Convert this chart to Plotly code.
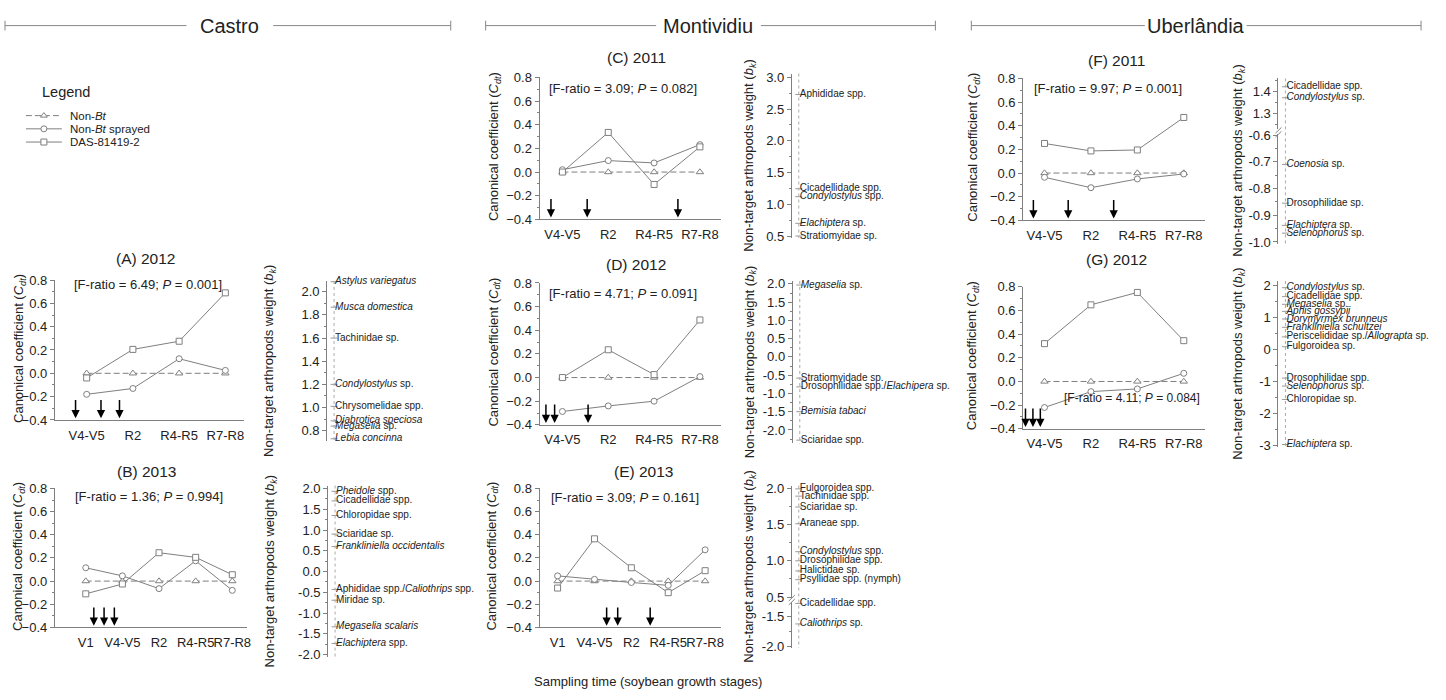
import plotly.graph_objects as go

W, H = 1446, 700
FONT = "Liberation Sans, Arial, sans-serif"
GRAY = "#7f7f7f"
TXT = "#222222"

# ------------------------------------------------------------------ data
stages4 = ["V4-V5", "R2", "R4-R5", "R7-R8"]
stages5 = ["V1", "V4-V5", "R2", "R4-R5", "R7-R8"]
series_names = ["Non-<i>Bt</i>", "Non-<i>Bt</i> sprayed", "DAS-81419-2"]

# Castro (A) 2012
a_nonbt = [0.0, 0.0, 0.0, 0.0]
a_sprayed = [-0.18, -0.13, 0.125, 0.025]
a_das = [-0.04, 0.205, 0.275, 0.69]
a_arrows = [0.76, 1.31, 1.71]
# Castro (B) 2013
b_nonbt = [0.0, 0.0, 0.0, 0.0, 0.0]
b_sprayed = [0.115, 0.045, -0.065, 0.175, -0.08]
b_das = [-0.11, -0.025, 0.245, 0.205, 0.055]
b_arrows = [1.22, 1.50, 1.78]
# Montividiu (C) 2011
c_nonbt = [0.0, 0.0, 0.0, 0.0]
c_sprayed = [0.02, 0.097, 0.077, 0.232]
c_das = [0.0, 0.335, -0.105, 0.213]
c_arrows = [0.75, 1.54, 3.52]
# Montividiu (D) 2012
d_nonbt = [0.0, 0.0, 0.0, 0.0]
d_sprayed = [-0.287, -0.24, -0.20, 0.008]
d_das = [0.0, 0.235, 0.025, 0.487]
d_arrows = [0.64, 0.83, 1.56]
# Montividiu (E) 2013
e_nonbt = [0.0, 0.0, 0.0, 0.0, 0.0]
e_sprayed = [0.045, 0.015, -0.012, -0.037, 0.27]
e_das = [-0.06, 0.365, 0.115, -0.10, 0.09]
e_arrows = [2.33, 2.63, 3.51]
# Uberlandia (F) 2011
f_nonbt = [0.0, 0.0, 0.0, 0.0]
f_sprayed = [-0.036, -0.124, -0.05, -0.008]
f_das = [0.25, 0.187, 0.195, 0.47]
f_arrows = [0.76, 1.51, 2.49]
# Uberlandia (G) 2012
g_nonbt = [0.0, 0.0, 0.0, 0.0]
g_sprayed = [-0.22, -0.086, -0.063, 0.069]
g_das = [0.32, 0.648, 0.753, 0.345]
g_arrows = [0.59, 0.75, 0.91]

f_ratios = {
    "A": "[F-ratio = 6.49; <i>P</i> = 0.001]",
    "B": "[F-ratio = 1.36; <i>P</i> = 0.994]",
    "C": "[F-ratio = 3.09; <i>P</i> = 0.082]",
    "D": "[F-ratio = 4.71; <i>P</i> = 0.091]",
    "E": "[F-ratio = 3.09; <i>P</i> = 0.161]",
    "F": "[F-ratio = 9.97; <i>P</i> = 0.001]",
    "G": "[F-ratio = 4.11; <i>P</i> = 0.084]",
}

# non-target arthropod weights (b_k)
aw_names = ["<i>Astylus variegatus</i>", "<i>Musca domestica</i>", "Tachinidae sp.",
            "<i>Condylostylus</i> sp.", "Chrysomelidae spp.", "<i>Diabrotica speciosa</i>",
            "<i>Megaselia</i> sp.", "<i>Lebia concinna</i>"]
aw_vals = [2.087, 1.867, 1.60, 1.20, 1.01, 0.885, 0.84, 0.73]

bw_names = ["<i>Pheidole</i> spp.", "Cicadellidae spp.", "Chloropidae spp.", "Sciaridae sp.",
            "<i>Frankliniella occidentalis</i>", "Aphididae spp./<i>Caliothrips</i> spp.",
            "Miridae sp.", "<i>Megaselia scalaris</i>", "<i>Elachiptera</i> spp."]
bw_vals = [1.93, 1.70, 1.35, 0.90, 0.60, -0.43, -0.69, -1.33, -1.73]

cw_names = ["Aphididae spp.", "Cicadellidade spp.", "<i>Condylostylus</i> spp.",
            "<i>Elachiptera</i> sp.", "Stratiomyidae sp."]
cw_vals = [2.73, 1.245, 1.12, 0.70, 0.50]

dw_names = ["<i>Megaselia</i> sp.", "Stratiomyidade sp.",
            "Drosophilidae spp./<i>Elachipera</i> sp.", "<i>Bemisia tabaci</i>", "Sciaridae spp."]
dw_vals = [1.97, -0.58, -0.82, -1.50, -2.28]

ew_up_names = ["Fulgoroidea spp.", "Tachinidae spp.", "Sciaridae sp.", "Araneae spp.",
               "<i>Condylostylus</i> spp.", "Drosophilidae spp.", "Halictidae sp.",
               "Psyllidae spp. (nymph)"]
ew_up_vals = [1.99, 1.89, 1.74, 1.51, 1.125, 1.00, 0.86, 0.74]
ew_lo_names = ["Cicadellidae spp.", "<i>Caliothrips</i> sp."]
ew_lo_vals = [-1.27, -1.62]

fw_up_names = ["Cicadellidae spp.", "<i>Condylostylus</i> sp."]
fw_up_vals = [1.42, 1.37]
fw_lo_names = ["<i>Coenosia</i> sp.", "Drosophilidae sp.", "<i>Elachiptera</i> sp.",
               "<i>Selenophorus</i> sp."]
fw_lo_vals = [-0.71, -0.855, -0.938, -0.967]

gw_names = ["<i>Condylostylus</i> sp.", "Cicadellidae spp.", "<i>Megaselia</i> sp.",
            "<i>Aphis gossypii</i>", "<i>Dorymyrmex brunneus</i>", "<i>Frankliniella schultzei</i>",
            "Periscelididae sp./<i>Allograpta</i> sp.", "Fulgoroidea sp.", "Drosophilidae spp.",
            "<i>Selenophorus</i> sp.", "Chloropidae sp.", "<i>Elachiptera</i> sp."]
gw_vals = [1.94, 1.66, 1.42, 1.20, 0.96, 0.70, 0.40, 0.09, -0.89, -1.14, -1.56, -2.97]

# ------------------------------------------------------------------ helpers
def fx(p):
    return p / W


def fy(p):
    return 1 - p / H


fig = go.Figure()
layout = dict(
    width=W, height=H, margin=dict(l=0, r=0, t=0, b=0),
    paper_bgcolor="white", plot_bgcolor="rgba(0,0,0,0)",
    showlegend=False, font=dict(family=FONT, color=TXT, size=13),
)
annotations = []
shapes = []

def ann(x, y, text, size=13, xanchor="center", yanchor="middle", angle=0, **kw):
    annotations.append(dict(x=fx(x), y=fy(y), xref="paper", yref="paper", text=text,
                            showarrow=False, xanchor=xanchor, yanchor=yanchor,
                            textangle=angle, font=dict(size=size, family=FONT, color=TXT), **kw))

def pline(x0, y0, x1, y1, color="#666", width=1, dash=None):
    shapes.append(dict(type="line", xref="paper", yref="paper", x0=fx(x0), y0=fy(y0),
                       x1=fx(x1), y1=fy(y1), line=dict(color=color, width=width, dash=dash)))

CDT_TITLE = "Canonical coefficient (<i>C</i><sub><i>dt</i></sub>)"
BK_TITLE = "Non-target arthropods weight (<i>b</i><sub><i>k</i></sub>)"

axis_id = [0]

def new_axes():
    axis_id[0] += 1
    return axis_id[0]

def cdt_panel(stages, nonbt, sprayed, das, arrows, title, ftxt,
              xdom, ydom, xr, title_xy, ftxt_xy, ftxt_anchor, ytitle_x, fsize=13):
    k = new_axes()
    xs = list(range(1, len(stages) + 1))
    layout[f"xaxis{k}"] = dict(
        domain=[fx(xdom[0]), fx(xdom[1])], range=xr, anchor=f"y{k}",
        tickvals=xs, ticktext=stages, showline=True, linecolor=GRAY, linewidth=1,
        ticks="", showgrid=False, zeroline=False, tickfont=dict(size=13, color=TXT),
        tickangle=0, ticklabelstandoff=3, fixedrange=True)
    layout[f"yaxis{k}"] = dict(
        domain=[fy(ydom[1]), fy(ydom[0])], range=[-0.4, 0.8], anchor=f"x{k}",
        tickvals=[-0.4, -0.2, 0.0, 0.2, 0.4, 0.6, 0.8], tickformat=".1f",
        showline=True, linecolor=GRAY, linewidth=1, ticks="outside", ticklen=4,
        tickcolor=GRAY, showgrid=False, zeroline=False, tickfont=dict(size=13, color=TXT),
        minor=dict(tickvals=[-0.3, -0.1, 0.1, 0.3, 0.5, 0.7], ticks="outside", ticklen=2,
                   tickcolor=GRAY, showgrid=False), fixedrange=True)
    xa, ya = f"x{k}", f"y{k}"
    for vals, sym, dash in ((nonbt, "triangle-up", "6px,3px"),
                            (sprayed, "circle", None),
                            (das, "square", None)):
        fig.add_trace(go.Scatter(
            x=xs, y=vals, xaxis=xa, yaxis=ya, mode="lines+markers",
            line=dict(color=GRAY, width=1, dash=dash),
            marker=dict(symbol=sym, size=6 if sym != "triangle-up" else 6.5,
                        color="white", line=dict(color=GRAY, width=1)),
            cliponaxis=False, hoverinfo="skip"))
    for a in arrows:
        annotations.append(dict(x=a, y=-0.385, ax=a, ay=-0.215, xref=xa, yref=ya,
                                axref=xa, ayref=ya, text="", showarrow=True,
                                arrowhead=2, arrowsize=1.1, arrowwidth=1.5,
                                arrowcolor="black"))
    ann(title_xy[0], title_xy[1], title, size=15.5)
    ann(ftxt_xy[0], ftxt_xy[1], ftxt, size=fsize, xanchor=ftxt_anchor)
    ann(ytitle_x, (ydom[0] + ydom[1]) / 2 - 2, CDT_TITLE, size=13, angle=-90)


def weight_axis(k, axpx, ydom, yr, tickvals, ticktext, minorvals, xk):
    layout[f"yaxis{k}"] = dict(
        domain=[fy(ydom[1]), fy(ydom[0])], range=yr, anchor=f"x{xk}",
        tickvals=tickvals, ticktext=ticktext, showline=True, linecolor=GRAY, linewidth=1,
        ticks="outside", ticklen=4, tickcolor=GRAY, showgrid=False, zeroline=False,
        tickfont=dict(size=13, color=TXT),
        minor=dict(tickvals=minorvals, ticks="outside", ticklen=2, tickcolor=GRAY,
                   showgrid=False), fixedrange=True)


def species(xk, yk, names, vals):
    fig.add_trace(go.Scatter(
        x=[7] * len(vals), y=vals, xaxis=f"x{xk}", yaxis=f"y{yk}", mode="markers",
        marker=dict(symbol="line-ew", size=5, line=dict(color="#999", width=1)),
        cliponaxis=False, hoverinfo="skip"))
    fig.add_trace(go.Scatter(
        x=[8] * len(vals), y=vals, xaxis=f"x{xk}", yaxis=f"y{yk}", mode="text",
        text=names, textposition="middle right",
        textfont=dict(size=10, color=TXT, family=FONT),
        cliponaxis=False, hoverinfo="skip"))


def frange(a, b, step):
    out = []
    v = a
    while v <= b + 1e-9:
        out.append(round(v, 4))
        v += step
    return out


def weight_panel(axpx, segments, title_x):
    """segments: list of (ydom, yr, tickvals, fmt, minorvals, names, vals)"""
    xk = new_axes()
    right = min(axpx + 175, W)
    layout[f"xaxis{xk}"] = dict(domain=[fx(axpx), fx(right)], range=[0, right - axpx],
                                visible=False, fixedrange=True, anchor=f"y{xk}")
    first = True
    top = min(s[0][0] for s in segments)
    bot = max(s[0][1] for s in segments)
    for ydom, yr, tv, fmt, mv, names, vals in segments:
        yk = xk if first else new_axes()
        if not first:
            layout[f"xaxis{yk}"] = dict(domain=[0, 0.001], visible=False, anchor=f"y{yk}")
        weight_axis(yk, axpx, ydom, yr, tv, [fmt.format(v) for v in tv], mv, xk)
        species(xk, yk, names, vals)
        first = False
    # dotted guide line
    shapes.append(dict(type="line", xref="paper", yref="paper",
                       x0=fx(axpx + 7), x1=fx(axpx + 7), y0=fy(top), y1=fy(bot),
                       line=dict(color="#aaa", width=1, dash="dot")))
    ann(title_x, (top + bot) / 2, BK_TITLE, size=13, angle=-90)


def break_mark(x, y):
    for dy in (-2, 2):
        pline(x - 3, y + dy + 3, x + 3, y + dy - 3, color=GRAY, width=1)


# ------------------------------------------------------------------ Castro
cdt_panel(stages4, a_nonbt, a_sprayed, a_das, a_arrows, "(A) 2012", f_ratios["A"],
          (55, 245), (279, 422), [0.312, 4.41], (146, 257), (72, 284), "left", 19)
weight_panel(328, [((280, 443), [0.715, 2.093], frange(0.8, 2.0, 0.2), "{:.1f}",
                    frange(0.7, 2.1, 0.1), aw_names, aw_vals)], 271)

cdt_panel(stages5, b_nonbt, b_sprayed, b_das, b_arrows, "(B) 2013", f_ratios["B"],
          (55, 248), (492, 634), [0.156, 5.41], (147, 475), (73, 500), "left", 19)
weight_panel(329, [((489, 664), [-2.05, 2.07], frange(-2.0, 2.0, 0.5), "{:.1f}",
                    frange(-2.0, 2.0, 0.25), bw_names, bw_vals)], 271)

# ------------------------------------------------------------------ Montividiu
cdt_panel(stages4, c_nonbt, c_sprayed, c_das, c_arrows, "(C) 2011", f_ratios["C"],
          (541, 723), (72, 217), [0.5, 4.46], (638, 52), (549, 83), "left", 496)
weight_panel(794, [((68, 236), [0.47, 3.06], frange(0.5, 3.0, 0.5), "{:.1f}",
                    frange(0.5, 3.0, 0.25), cw_names, cw_vals)], 752)

cdt_panel(stages4, d_nonbt, d_sprayed, d_das, d_arrows, "(D) 2012", f_ratios["D"],
          (541, 723), (282, 427), [0.5, 4.46], (638, 263), (549, 293), "left", 496)
weight_panel(795, [((280, 446), [-2.37, 2.08], frange(-2.0, 2.0, 0.5), "{:.1f}",
                    frange(-2.25, 2.0, 0.25), dw_names, dw_vals)], 752)

cdt_panel(stages5, e_nonbt, e_sprayed, e_das, e_arrows, "(E) 2013", f_ratios["E"],
          (541, 723), (492, 634), [0.51, 5.43], (645, 475), (551, 501), "left", 494)
weight_panel(794, [((489, 604), [0.487, 2.036], [0.5, 1.0, 1.5, 2.0], "{:.1f}",
                    [0.75, 1.25, 1.75], ew_up_names, ew_up_vals),
                   ((608, 655), [-2.03, -1.245], [-2.0, -1.5], "{:.1f}",
                    [-1.75], ew_lo_names, ew_lo_vals)], 752)
break_mark(794, 606)

# ------------------------------------------------------------------ Uberlandia
cdt_panel(stages4, f_nonbt, f_sprayed, f_das, f_arrows, "(F) 2011", f_ratios["F"],
          (1026, 1208), (73, 218), [0.54, 4.45], (1120, 55), (1035, 83), "left", 976)
weight_panel(1282, [((73, 125), [1.226, 1.458], [1.3, 1.4], "{:.1f}",
                     [1.25, 1.35, 1.45], fw_up_names, fw_up_vals),
                    ((130, 242), [-1.007, -0.597], [-1.0, -0.9, -0.8, -0.7, -0.6], "{:.1f}",
                     [-0.95, -0.85, -0.75, -0.65], fw_lo_names, fw_lo_vals)], 1242)
break_mark(1282, 128)

cdt_panel(stages4, g_nonbt, g_sprayed, g_das, g_arrows, "(G) 2012", f_ratios["G"],
          (1026, 1208), (286, 431), [0.54, 4.45], (1120, 258), (1205, 400), "right", 976,
          fsize=12)
weight_panel(1282, [((280, 450), [-3.06, 2.15], [-3, -2, -1, 0, 1, 2], "{:d}",
                     frange(-2.5, 1.5, 1.0), gw_names, gw_vals)], 1242)

# ------------------------------------------------------------------ headers
for name, x0, x1, tx0, tx1, cx in (("Castro", 5, 452, 187, 274, 230),
                                    ("Montividiu", 487, 938, 658, 763, 710),
                                    ("Uberlândia", 974, 1425, 1148, 1250, 1199)):
    pline(x0, 19, tx0, 19, color="#888")
    pline(tx1, 19, x1, 19, color="#888")
    pline(x0, 14, x0, 24, color="#888")
    pline(x1, 14, x1, 24, color="#888")
    ann(cx, 19, name, size=20)

# ------------------------------------------------------------------ legend
ann(40, 87, "Legend", size=14.5, xanchor="left")
lk = new_axes()
layout[f"xaxis{lk}"] = dict(domain=[0, 1], range=[0, W], visible=False, anchor=f"y{lk}",
                            fixedrange=True)
layout[f"yaxis{lk}"] = dict(domain=[0, 1], range=[H, 0], visible=False, anchor=f"x{lk}",
                            fixedrange=True)
for i, (nm, sym, dash) in enumerate(zip(series_names, ["triangle-up", "circle", "square"],
                                        ["6px,3px", None, None])):
    yy = 111 + i * 13.5
    fig.add_trace(go.Scatter(x=[26, 62], y=[yy, yy], xaxis=f"x{lk}", yaxis=f"y{lk}",
                             mode="lines", line=dict(color=GRAY, width=1, dash=dash),
                             hoverinfo="skip"))
    fig.add_trace(go.Scatter(x=[44], y=[yy], xaxis=f"x{lk}", yaxis=f"y{lk}", mode="markers",
                             marker=dict(symbol=sym, size=6, color="white",
                                         line=dict(color=GRAY, width=1)),
                             hoverinfo="skip"))
    ann(68, yy, nm, size=11.5, xanchor="left")

# common x title
ann(650, 689, "Sampling time (soybean growth stages)", size=13)

layout["annotations"] = annotations
layout["shapes"] = shapes
fig.update_layout(**layout)
fig.write_html("out.html", config={"displayModeBar": False})
